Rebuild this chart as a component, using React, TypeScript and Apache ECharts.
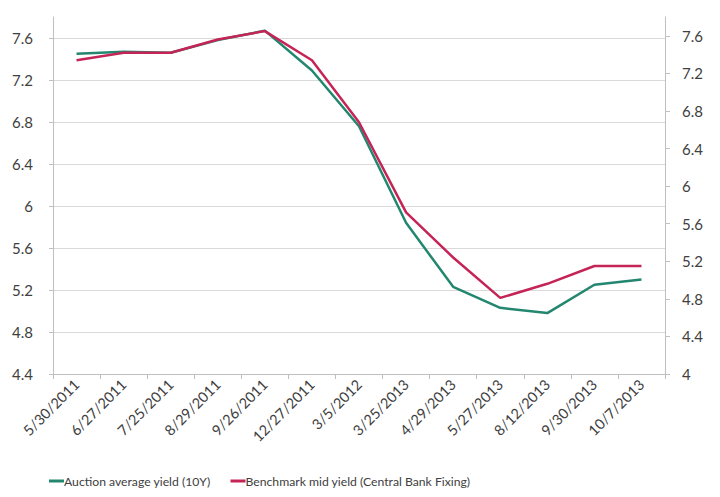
import React, { useEffect, useRef } from "react";
import * as echarts from "echarts";

// Auction dates (category axis)
const dates = [
  "5/30/2011", "6/27/2011", "7/25/2011", "8/29/2011", "9/26/2011",
  "12/27/2011", "3/5/2012", "3/25/2013", "4/29/2013", "5/27/2013",
  "8/12/2013", "9/30/2013", "10/7/2013",
];

// Auction average yield (10Y), left axis
const auctionYield = [7.45, 7.47, 7.46, 7.58, 7.67, 7.29, 6.76, 5.84, 5.23, 5.03, 4.98, 5.25, 5.3];

// Benchmark mid yield (Central Bank Fixing), right axis
const benchmarkYield = [7.34, 7.42, 7.42, 7.56, 7.65, 7.34, 6.68, 5.72, 5.24, 4.81, 4.96, 5.15, 5.15];

const seriesNames = ["Auction average yield (10Y)", "Benchmark mid yield (Central Bank Fixing)"];

const GREEN = "#23876f";
const RED = "#c52456";
const FONT = "Lato, 'Open Sans', sans-serif";
const LABEL = "#404040";

export default function App() {
  const ref = useRef<HTMLDivElement>(null);

  useEffect(() => {
    if (!ref.current) return;
    const chart = echarts.init(ref.current, undefined, { renderer: "svg" });
    // the top split line (at the axis max) stays invisible
    const gridColors = [...Array(9).fill("#d9d9d9"), "rgba(0,0,0,0)"];
    const fmt = (v: number) => String(Math.round(v * 10) / 10);
    chart.setOption({
      animation: false,
      textStyle: { fontFamily: FONT },
      grid: { left: 53, right: 55, top: 17, bottom: 123, containLabel: false },
      legend: {
        bottom: 5,
        left: 44,
        itemWidth: 15,
        itemHeight: 3,
        itemGap: 20,
        icon: "rect",
        textStyle: { fontFamily: FONT, fontSize: 12.2, color: LABEL, padding: [0, 0, 0, -5] },
        data: seriesNames,
      },
      xAxis: {
        type: "category",
        data: dates,
        boundaryGap: true,
        axisLine: { lineStyle: { color: "#bfbfbf", width: 1 } },
        axisTick: { show: true, length: 5, lineStyle: { color: "#bfbfbf" } },
        axisLabel: {
          interval: 0,
          rotate: 45,
          margin: 8,
          fontSize: 14.5,
          color: LABEL,
          fontFamily: FONT,
        },
      },
      yAxis: [
        {
          type: "value",
          min: 4.4,
          max: 7.8,
          interval: 0.4,
          axisLine: { show: true, lineStyle: { color: "#bfbfbf" } },
          axisTick: { show: true, length: 4, lineStyle: { color: "#bfbfbf" } },
          axisLabel: {
            showMaxLabel: false,
            margin: 20,
            fontSize: 15,
            color: LABEL,
            fontFamily: FONT,
            formatter: fmt,
          },
          splitLine: { show: true, lineStyle: { color: gridColors, width: 1 } },
        },
        {
          type: "value",
          min: 4,
          max: 7.8,
          interval: 0.4,
          position: "right",
          axisLine: { show: true, lineStyle: { color: "#bfbfbf" } },
          axisTick: { show: true, length: 5, lineStyle: { color: "#bfbfbf" } },
          axisLabel: {
            showMaxLabel: false,
            margin: 17,
            fontSize: 15,
            color: LABEL,
            fontFamily: FONT,
            formatter: fmt,
          },
          splitLine: { show: false },
        },
      ],
      series: [
        {
          name: seriesNames[0],
          type: "line",
          yAxisIndex: 0,
          data: auctionYield,
          showSymbol: false,
          symbol: "none",
          lineStyle: { color: GREEN, width: 2.5 },
          itemStyle: { color: GREEN },
          z: 3,
        },
        {
          name: seriesNames[1],
          type: "line",
          yAxisIndex: 1,
          data: benchmarkYield,
          showSymbol: false,
          symbol: "none",
          lineStyle: { color: RED, width: 2.5 },
          itemStyle: { color: RED },
          z: 4,
        },
      ],
    });
    return () => chart.dispose();
  }, []);

  return (
    <div
      ref={ref}
      style={{ position: "absolute", left: 0, top: 0, width: 720, height: 497, background: "#fff" }}
    />
  );
}
